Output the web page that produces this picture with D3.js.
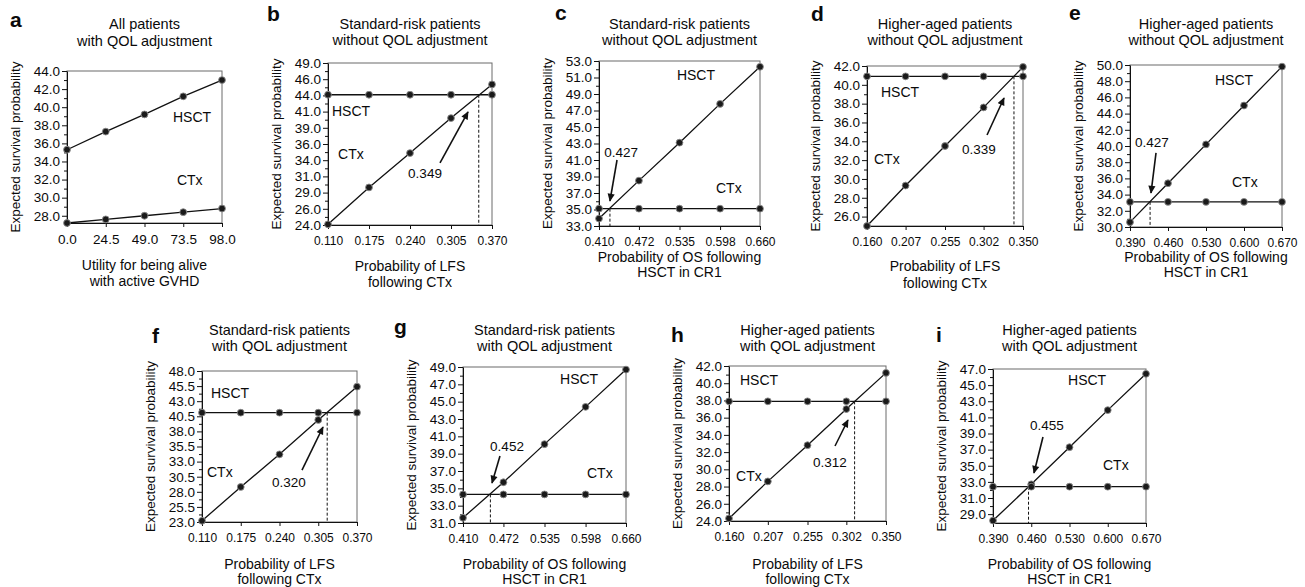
<!DOCTYPE html>
<html><head><meta charset="utf-8">
<script src="https://cdn.jsdelivr.net/npm/d3@7"></script>
<style>
body{margin:0;background:#fff}
svg text{font-family:"Liberation Sans",Arial,Helvetica,sans-serif;fill:#0a0a0a}
</style>
</head><body>
<svg id="chart" width="1305" height="587"></svg>
<script>
// ---------------- DATA ----------------
const xTicksA = [0.0, 24.5, 49.0, 73.5, 98.0];
const xLabelsA = ["0.0", "24.5", "49.0", "73.5", "98.0"];
const xTicksLFS1 = [0.110, 0.175, 0.240, 0.305, 0.370];
const xLabelsLFS1 = ["0.110", "0.175", "0.240", "0.305", "0.370"];
const xTicksOS1 = [0.410, 0.472, 0.535, 0.598, 0.660];
const xLabelsOS1 = ["0.410", "0.472", "0.535", "0.598", "0.660"];
const xTicksLFS2 = [0.160, 0.207, 0.255, 0.302, 0.350];
const xLabelsLFS2 = ["0.160", "0.207", "0.255", "0.302", "0.350"];
const xTicksOS2 = [0.390, 0.460, 0.530, 0.600, 0.670];
const xLabelsOS2 = ["0.390", "0.460", "0.530", "0.600", "0.670"];

const yTicksA = [28, 30, 32, 34, 36, 38, 40, 42, 44];
const yLabelsA = ["28.0", "30.0", "32.0", "34.0", "36.0", "38.0", "40.0", "42.0", "44.0"];
const yTicksB = [24, 26.5, 29, 31.5, 34, 36.5, 39, 41.5, 44, 46.5, 49];
const yLabelsB = ["24.0", "26.0", "29.0", "31.0", "34.0", "36.0", "39.0", "41.0", "44.0", "46.0", "49.0"];
const yTicksC = [33, 35, 37, 39, 41, 43, 45, 47, 49, 51, 53];
const yLabelsC = ["33.0", "35.0", "37.0", "39.0", "41.0", "43.0", "45.0", "47.0", "49.0", "51.0", "53.0"];
const yTicksD = [26, 28, 30, 32, 34, 36, 38, 40, 42];
const yLabelsD = ["26.0", "28.0", "30.0", "32.0", "34.0", "36.0", "38.0", "40.0", "42.0"];
const yTicksE = [30, 32, 34, 36, 38, 40, 42, 44, 46, 48, 50];
const yLabelsE = ["30.0", "32.0", "34.0", "36.0", "38.0", "40.0", "42.0", "44.0", "46.0", "48.0", "50.0"];
const yTicksF = [23, 25.5, 28, 30.5, 33, 35.5, 38, 40.5, 43, 45.5, 48];
const yLabelsF = ["23.0", "25.5", "28.0", "30.5", "33.0", "35.5", "38.0", "40.5", "43.0", "45.5", "48.0"];
const yTicksG = [31, 33, 35, 37, 39, 41, 43, 45, 47, 49];
const yLabelsG = ["31.0", "33.0", "35.0", "37.0", "39.0", "41.0", "43.0", "45.0", "47.0", "49.0"];
const yTicksH = [24, 26, 28, 30, 32, 34, 36, 38, 40, 42];
const yLabelsH = ["24.0", "26.0", "28.0", "30.0", "32.0", "34.0", "36.0", "38.0", "40.0", "42.0"];
const yTicksI = [29, 31, 33, 35, 37, 39, 41, 43, 45, 47];
const yLabelsI = ["29.0", "31.0", "33.0", "35.0", "37.0", "39.0", "41.0", "43.0", "45.0", "47.0"];

const hsctA = [35.3, 37.3, 39.2, 41.2, 43.0];
const ctxA  = [27.2, 27.6, 28.0, 28.4, 28.8];
const hsctB = [44.1, 44.1, 44.1, 44.1, 44.1];
const ctxB  = [24.1, 29.8, 35.1, 40.5, 45.7];
const hsctC = [33.9, 38.5, 43.1, 47.8, 52.3];
const ctxC  = [35.1, 35.1, 35.1, 35.1, 35.1];
const hsctD = [40.9, 40.9, 40.9, 40.9, 40.9];
const ctxD  = [25.0, 29.3, 33.5, 37.6, 41.9];
const hsctE = [30.6, 35.4, 40.2, 45.0, 49.8];
const ctxE  = [33.1, 33.1, 33.1, 33.1, 33.1];
const hsctF = [41.1, 41.1, 41.1, 41.1, 41.1];
const ctxF  = [23.2, 28.8, 34.2, 39.9, 45.4];
const hsctG = [31.6, 35.7, 40.1, 44.4, 48.7];
const ctxG  = [34.3, 34.3, 34.3, 34.3, 34.3];
const hsctH = [37.9, 37.9, 37.9, 37.9, 37.9];
const ctxH  = [24.3, 28.6, 32.8, 37.0, 41.2];
const hsctI = [28.2, 32.7, 37.3, 41.9, 46.4];
const ctxI  = [32.4, 32.4, 32.4, 32.4, 32.4];

const thresholds = {b: 0.349, c: 0.427, d: 0.339, e: 0.427, f: 0.320, g: 0.452, h: 0.312, i: 0.455};

const titleQOLallA = ["All patients", "with QOL adjustment"];
const titleSRwithout = ["Standard-risk patients", "without QOL adjustment"];
const titleHAwithout = ["Higher-aged patients", "without QOL adjustment"];
const titleSRwith = ["Standard-risk patients", "with QOL adjustment"];
const titleHAwith = ["Higher-aged patients", "with QOL adjustment"];
const xTitleA = ["Utility for being alive", "with active GVHD"];
const xTitleLFS = ["Probability of LFS", "following CTx"];
const xTitleOS = ["Probability of OS following", "HSCT in CR1"];
const yTitle = "Expected survival probability";
const seriesNames = ["HSCT", "CTx"];

// ---------------- LAYOUT ----------------
const panels = [
  {id:"a", box:[67,222,71,223], yMin:27.2, xT:xTicksA, xL:xLabelsA, yT:yTicksA, yL:yLabelsA, hs:hsctA, cx:ctxA,
   title:titleQOLallA, titleY:[29,46], xt:xTitleA, xtY:[270,286], letter:[10,27], xFont:13.5,
   hsLab:[67,38.4], cxLab:[69.5,31.4]},
  {id:"b", box:[328,492,63,225], yMin:24, xT:xTicksLFS1, xL:xLabelsLFS1, yT:yTicksB, yL:yLabelsB, hs:hsctB, cx:ctxB,
   title:titleSRwithout, titleY:[29,45], xt:xTitleLFS, xtY:[271,287], letter:[267,21], xFont:12, flat:"hs",
   hsLab:[0.1163,40.8], cxLab:[0.1259,34.2], numLab:[0.2638,31.25], arrow:[0.2876,33.57,0.332,41.44]},
  {id:"c", box:[599,760,61,226], yMin:33, xT:xTicksOS1, xL:xLabelsOS1, yT:yTicksC, yL:yLabelsC, hs:hsctC, cx:ctxC,
   title:titleSRwithout, titleY:[29,45], xt:xTitleOS, xtY:[262,277], letter:[555,20], xFont:12, flat:"cx",
   hsLab:[0.531,50.7], cxLab:[0.5917,37.0], numLab:[0.4442,41.36], arrow:[0.438,41.0,0.427,36.03]},
  {id:"d", box:[867,1023,66,226], yMin:25, xT:xTicksLFS2, xL:xLabelsLFS2, yT:yTicksD, yL:yLabelsD, hs:hsctD, cx:ctxD,
   title:titleHAwithout, titleY:[29,45], xt:xTitleLFS, xtY:[271,288], letter:[811,21], xFont:12, flat:"hs",
   hsLab:[0.177,38.7], cxLab:[0.1685,31.6], numLab:[0.2964,32.65], arrow:[0.3062,34.67,0.3269,38.6]},
  {id:"e", box:[1130,1282,65,227], yMin:30, xT:xTicksOS2, xL:xLabelsOS2, yT:yTicksE, yL:yLabelsE, hs:hsctE, cx:ctxE,
   title:titleHAwithout, titleY:[29,45], xt:xTitleOS, xtY:[262,277], letter:[1069,20], xFont:12, flat:"cx",
   hsLab:[0.5466,47.5], cxLab:[0.5779,34.94], numLab:[0.4305,39.88], arrow:[0.4379,39.14,0.4287,34.2]},
  {id:"f", box:[202,357,371,522], yMin:23, xT:xTicksLFS1, xL:xLabelsLFS1, yT:yTicksF, yL:yLabelsF, hs:hsctF, cx:ctxF,
   title:titleSRwith, titleY:[335,351], xt:xTitleLFS, xtY:[569,584], letter:[152,343], xFont:12, flat:"hs",
   hsLab:[0.1251,43.53], cxLab:[0.1184,30.45], numLab:[0.2559,28.8], arrow:[0.2777,31.6,0.313,38.73]},
  {id:"g", box:[463,626,367,523], yMin:31, xT:xTicksOS1, xL:xLabelsOS1, yT:yTicksG, yL:yLabelsG, hs:hsctG, cx:ctxG,
   title:titleSRwith, titleY:[335,351], xt:xTitleOS, xtY:[569,584], letter:[394,334], xFont:12, flat:"cx",
   hsLab:[0.5588,47.04], cxLab:[0.6002,36.19], numLab:[0.4775,39.31], arrow:[0.4667,38.73,0.4545,35.62]},
  {id:"h", box:[729,886,366,521], yMin:24, xT:xTicksLFS2, xL:xLabelsLFS2, yT:yTicksH, yL:yLabelsH, hs:hsctH, cx:ctxH,
   title:titleHAwith, titleY:[335,351], xt:xTitleLFS, xtY:[569,584], letter:[671,342], xFont:12, flat:"hs",
   hsLab:[0.1733,39.79], cxLab:[0.1685,28.64], numLab:[0.2822,30.27], arrow:[0.2883,32.71,0.304,35.73]},
  {id:"i", box:[993,1146,369,523], yMin:27.9, xT:xTicksOS2, xL:xLabelsOS2, yT:yTicksI, yL:yLabelsI, hs:hsctI, cx:ctxI,
   title:titleHAwith, titleY:[335,351], xt:xTitleOS, xtY:[569,584], letter:[936,342], xFont:12, flat:"cx",
   hsLab:[0.5273,45.02], cxLab:[0.5913,34.47], numLab:[0.4888,39.43], arrow:[0.4815,38.57,0.465,34.1]}
];

const svg = d3.select("#chart");
const defs = svg.append("defs");
defs.append("marker").attr("id","ah").attr("viewBox","0 0 10 10").attr("refX",9).attr("refY",5)
  .attr("markerUnits","userSpaceOnUse").attr("markerWidth",9).attr("markerHeight",8).attr("orient","auto")
  .append("path").attr("d","M0,0.5 L10,5 L0,9.5 Z").attr("fill","#111");

function drawPanel(p) {
  const [L, R, T, B] = p.box;
  const g = svg.append("g").attr("class", "panel-" + p.id);
  const x = d3.scaleLinear().domain([p.xT[0], p.xT[p.xT.length - 1]]).range([L, R]);
  const y = d3.scaleLinear().domain([p.yMin, p.yT[p.yT.length - 1]]).range([B, T]);

  // frame
  g.append("rect").attr("x", L).attr("y", T).attr("width", R - L).attr("height", B - T)
    .attr("fill", "none").attr("stroke", "#6a6a6a").attr("stroke-width", 1);

  // y axis (major)
  const yLab = new Map(p.yT.map((v, i) => [v, p.yL[i]]));
  const ya = g.append("g").attr("transform", `translate(${L},0)`)
    .call(d3.axisLeft(y).tickValues(p.yT).tickFormat(d => yLab.get(d)).tickSize(5).tickPadding(2).tickSizeOuter(0));
  ya.attr("font-size", 13.5).attr("font-family", null);
  ya.selectAll("path,line").attr("stroke", "#111");
  // y axis minor
  const mids = p.yT.slice(1).map((v, i) => (v + p.yT[i]) / 2);
  const ym = g.append("g").attr("transform", `translate(${L},0)`)
    .call(d3.axisLeft(y).tickValues(mids).tickFormat("").tickSize(3).tickSizeOuter(0));
  ym.select(".domain").remove();
  ym.selectAll("line").attr("stroke", "#111");

  // x axis
  const xLab = new Map(p.xT.map((v, i) => [v, p.xL[i]]));
  const xa = g.append("g").attr("transform", `translate(0,${B})`)
    .call(d3.axisBottom(x).tickValues(p.xT).tickFormat(d => xLab.get(d)).tickSize(4).tickPadding(7).tickSizeOuter(0));
  xa.attr("font-size", p.xFont).attr("font-family", null);
  xa.selectAll("path,line").attr("stroke", "#111");

  // threshold dashed line
  if (p.flat) {
    const level = (p.flat === "hs" ? p.hs : p.cx)[0];
    const th = thresholds[p.id];
    g.append("line").attr("x1", x(th)).attr("x2", x(th)).attr("y1", y(level)).attr("y2", B)
      .attr("stroke", "#111").attr("stroke-width", 1).attr("stroke-dasharray", "3,2");
  }

  // series lines
  const line = d3.line().x((d, i) => x(p.xT[i])).y(d => y(d));
  [p.hs, p.cx].forEach(s => {
    g.append("path").attr("d", line(s)).attr("fill", "none").attr("stroke", "#111").attr("stroke-width", 1.3);
  });
  [p.hs, p.cx].forEach(s => {
    g.selectAll(null).data(s).enter().append("circle")
      .attr("cx", (d, i) => x(p.xT[i])).attr("cy", d => y(d)).attr("r", 3.4)
      .attr("fill", "#1a1a1a").attr("stroke", "#8a8a8a").attr("stroke-width", 0.9);
  });

  // series labels
  g.append("text").attr("x", x(p.hsLab[0])).attr("y", y(p.hsLab[1])).attr("font-size", 14).text(seriesNames[0]);
  g.append("text").attr("x", x(p.cxLab[0])).attr("y", y(p.cxLab[1])).attr("font-size", 14).text(seriesNames[1]);

  // threshold annotation
  if (p.numLab) {
    g.append("text").attr("x", x(p.numLab[0])).attr("y", y(p.numLab[1])).attr("text-anchor", "middle")
      .attr("font-size", 13.5).text(d3.format(".3f")(thresholds[p.id]));
    g.append("line").attr("x1", x(p.arrow[0])).attr("y1", y(p.arrow[1]))
      .attr("x2", x(p.arrow[2])).attr("y2", y(p.arrow[3]))
      .attr("stroke", "#111").attr("stroke-width", 1.6).attr("marker-end", "url(#ah)");
  }

  // titles
  const cxm = (L + R) / 2;
  p.title.forEach((t, i) => g.append("text").attr("x", cxm).attr("y", p.titleY[i]).attr("text-anchor", "middle")
    .attr("font-size", 14.5).text(t));
  p.xt.forEach((t, i) => g.append("text").attr("x", cxm).attr("y", p.xtY[i]).attr("text-anchor", "middle")
    .attr("font-size", 14).text(t));
  g.append("text").attr("transform", `translate(${L - 52},${(T + B) / 2}) rotate(-90)`)
    .attr("text-anchor", "middle").attr("dy", "0.35em").attr("font-size", 13.5).text(yTitle);
  g.append("text").attr("x", p.letter[0]).attr("y", p.letter[1]).attr("font-size", 21)
    .attr("font-weight", "bold").text(p.id);
}

panels.forEach(drawPanel);
</script>
</body></html>
